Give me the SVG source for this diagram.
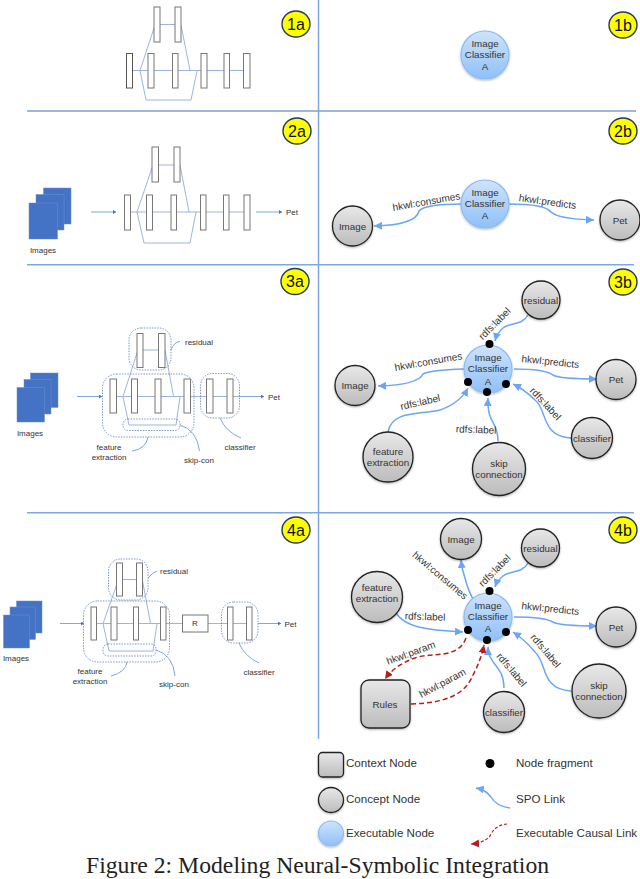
<svg xmlns="http://www.w3.org/2000/svg" width="640" height="879" viewBox="0 0 640 879">
<style>
text{font-family:"Liberation Sans",Arial,sans-serif;fill:#333}
.n{font-size:9.8px;text-anchor:middle}
.l{font-size:10px;text-anchor:middle}
.s{font-size:8px;text-anchor:middle}
.k{font-size:11.6px}
.b{font-size:16px;text-anchor:middle;fill:#111}
.bar{fill:#fff;stroke:#777;stroke-width:1}
.net{fill:none;stroke:#9db5dc;stroke-width:1}
.dot{fill:none;stroke:#5b7fb8;stroke-width:.8;stroke-dasharray:1.5 1.2}
.thin{fill:none;stroke:#5f8fd0;stroke-width:.8}
.img{fill:#4472c4;stroke:#6f8fcf;stroke-width:.5}
.div{stroke:#7fa6e8;stroke-width:1.5}
.badge{fill:#ffff00;stroke:#1f3864;stroke-width:1.4}
.con{fill:url(#g);stroke:#222;stroke-width:1.3;filter:url(#sh)}
.exe{fill:url(#e);stroke:#8dbcf5;stroke-width:1.2;filter:url(#sh)}
.spo{fill:none;stroke:#6aa6f5;stroke-width:1.5;marker-end:url(#ab)}
.cau{fill:none;stroke:#b81c1c;stroke-width:1.5;stroke-dasharray:5 3;marker-end:url(#ar)}
</style>
<defs>
<linearGradient id="g" x1="0" y1="0" x2="0" y2="1"><stop offset="0" stop-color="#e8e8e8"/><stop offset="1" stop-color="#bcbcbc"/></linearGradient>
<linearGradient id="e" x1="0" y1="0" x2="0" y2="1"><stop offset="0" stop-color="#cfe3fb"/><stop offset="1" stop-color="#8fc0f8"/></linearGradient>
<filter id="sh" x="-20%" y="-20%" width="140%" height="150%"><feDropShadow dx="0" dy="1" stdDeviation="1" flood-color="#000" flood-opacity=".3"/></filter>
<marker id="ab" markerUnits="userSpaceOnUse" markerWidth="9" markerHeight="8" refX="8" refY="4" orient="auto"><path d="M0 0L8 4L0 8z" fill="#6aa6f5"/></marker>
<marker id="ar" markerUnits="userSpaceOnUse" markerWidth="9" markerHeight="8" refX="8" refY="4" orient="auto"><path d="M0 0L8 4L0 8z" fill="#b81c1c"/></marker>
<marker id="as" markerUnits="userSpaceOnUse" markerWidth="4" markerHeight="4" refX="3" refY="2" orient="auto"><path d="M0 0L3 2L0 4z" fill="#4472c4"/></marker>
</defs>

<g id="dividers">
<line class="div" x1="318.5" y1="0" x2="318.5" y2="739"/>
<line class="div" x1="27" y1="111" x2="636" y2="111" style="stroke:#7f9fcf"/>
<line class="div" x1="27" y1="264.7" x2="634" y2="264.7"/>
<line class="div" x1="27" y1="512.7" x2="634" y2="512.7"/>
</g>

<g id="panel-1a">
<path class="net" d="M155 25L140 70.5M160 24.5H175M181 25L190 70.5M132 70.5H244M140 70.5L146 100H191L197 71"/>
<rect class="bar" x="154" y="7" width="6" height="35"/><rect class="bar" x="175" y="7" width="6" height="35"/>
<rect class="bar" x="126.5" y="53.5" width="6" height="34.5" style="stroke:#555"/><rect class="bar" x="148" y="53.5" width="6" height="34.5"/><rect class="bar" x="172.5" y="53.5" width="5.5" height="34.5"/><rect class="bar" x="201" y="53.5" width="6" height="34.5"/><rect class="bar" x="224" y="53.5" width="5.5" height="34.5"/><rect class="bar" x="243.5" y="53.5" width="6.5" height="34.5"/>
</g>

<g id="panel-2a">
<rect class="img" x="43.5" y="188" width="27.5" height="36"/><rect class="img" x="36" y="194.5" width="28" height="35.5"/><rect class="img" x="29" y="203" width="28.5" height="36"/>
<text class="s" x="43" y="253">Images</text>
<path class="net" d="M153 165L137 212M158 165H174M180 165L189 212M130 212H244M137 212L144 243H190L196 212"/>
<path class="thin" d="M91 212H116" marker-end="url(#as)"/><path class="thin" d="M256 212H282" marker-end="url(#as)"/>
<text class="s" x="292" y="215">Pet</text>
<rect class="bar" x="152" y="147" width="6.5" height="35"/><rect class="bar" x="174" y="147" width="6" height="35"/>
<rect class="bar" x="124.5" y="195" width="6" height="35"/><rect class="bar" x="146.5" y="195" width="6" height="35"/><rect class="bar" x="171" y="195" width="5.5" height="35"/><rect class="bar" x="200.5" y="195" width="5.5" height="35"/><rect class="bar" x="223.5" y="195" width="5.5" height="35"/><rect class="bar" x="244" y="195" width="6" height="35"/>
</g>

<g id="panel-3a">
<rect class="img" x="30.5" y="373" width="27.5" height="34.5"/><rect class="img" x="24" y="379.5" width="27" height="34.5"/><rect class="img" x="17" y="387.5" width="27.5" height="34.5"/>
<text class="s" x="30" y="436">Images</text>
<path class="net" d="M138 350L123 396.5M143 350H158.5M165 350L173.5 396.5M116 396.5H233M123 396.5L129 425H176L180 396.5M233 396.5H239"/>
<path class="thin" d="M77 396.5H102" marker-end="url(#as)"/><path class="thin" d="M239 396.5H264" marker-end="url(#as)"/>
<text class="s" x="274" y="399.5">Pet</text>
<rect class="bar" x="137" y="333.5" width="6" height="34"/><rect class="bar" x="158.5" y="333.5" width="6.5" height="34"/>
<rect class="bar" x="110" y="379" width="6.5" height="34"/><rect class="bar" x="131.5" y="379" width="6" height="34"/><rect class="bar" x="155" y="379" width="6" height="34"/><rect class="bar" x="184" y="379" width="6.5" height="34"/><rect class="bar" x="206.5" y="379" width="6.5" height="34"/><rect class="bar" x="227" y="379" width="6" height="34"/>
<rect class="dot" x="129" y="328" width="42" height="42" rx="12"/><rect class="dot" x="102.5" y="374" width="91.5" height="63" rx="14"/><rect class="dot" x="200.5" y="373.5" width="39" height="44.5" rx="12"/><rect class="dot" x="123" y="419" width="57" height="11.5" rx="5"/>
<path class="thin" d="M171 350Q174 342 180 341.5M148 437Q146 449 132 451M180 425Q197 430 199.5 451M220 418Q226 432 241 438"/>
<text class="s" x="199" y="344.5">residual</text><text class="s" x="109" y="450">feature</text><text class="s" x="109" y="460">extraction</text><text class="s" x="199" y="463">skip-con</text><text class="s" x="240" y="450">classifier</text>
</g>

<g id="panel-4a">
<rect class="img" x="16.5" y="601" width="25.5" height="32"/><rect class="img" x="10" y="607" width="25.5" height="32.5"/><rect class="img" x="3.5" y="615" width="26" height="33"/>
<text class="s" x="16" y="661">Images</text>
<path class="net" d="M118 581L103 623.5M122.5 579.500H136.5M142.5 581L150.5 623.5M96.5 623.5H182.5M103 623.5L109 651H153L157 623.5M208 623.5H252"/>
<path class="thin" d="M60 623.5H84" marker-end="url(#as)"/><path class="thin" d="M258 623.5H281" marker-end="url(#as)"/>
<text class="s" x="290.5" y="626.5">Pet</text>
<rect class="bar" x="116.5" y="563" width="6" height="33"/><rect class="bar" x="136.5" y="563" width="6" height="33"/>
<rect class="bar" x="91" y="607" width="5.5" height="33"/><rect class="bar" x="111" y="607" width="6" height="33"/><rect class="bar" x="133.5" y="607" width="5" height="33"/><rect class="bar" x="160.5" y="607" width="5.5" height="33"/><rect class="bar" x="227.5" y="607" width="5.5" height="33"/><rect class="bar" x="246.5" y="607" width="5.5" height="33"/>
<rect class="bar" x="182.5" y="615" width="25.5" height="17"/><text class="s" x="195" y="626">R</text>
<rect class="dot" x="108.5" y="559" width="39.5" height="41" rx="12"/><rect class="dot" x="83.5" y="601" width="86" height="61" rx="14"/><rect class="dot" x="221.5" y="602" width="36.5" height="41" rx="12"/><rect class="dot" x="103" y="644" width="53" height="12" rx="5"/>
<path class="thin" d="M148 578Q153 572 157 571M127 662Q126 672 111 676M156 650Q173 655 175 676M239 643Q244 656 259 663"/>
<text class="s" x="174" y="574">residual</text><text class="s" x="90" y="674">feature</text><text class="s" x="90" y="684">extraction</text><text class="s" x="174" y="687">skip-con</text><text class="s" x="259" y="675">classifier</text>
</g>

<g id="connectors">
<path class="spo" d="M461 204Q425 204 419 211Q416 225 374 226"/>
<path class="spo" d="M509 204Q545 204 551 212Q558 219 594 220"/>
<path class="spo" d="M528 315C522 326 510 322 503 328Q497 333 495 341"/>
<path class="spo" d="M464 369Q430 370 423 374Q418 385 378 386"/>
<path class="spo" d="M514 369Q545 369 553 375Q560 379 597 379"/>
<path class="spo" d="M388 432C392 410 420 415 440 410Q460 403 468 388"/>
<path class="spo" d="M498 441C498 420 487 425 488 398"/>
<path class="spo" d="M571 438C540 436 548 410 535 400Q525 390 513 384"/>
<path class="spo" d="M473 599Q468 590 465 578Q462 570 461 560"/>
<path class="spo" d="M528 563C522 574 510 570 503 576Q497 581 495 587"/>
<path class="spo" d="M396 613C405 627 425 630 463 632"/>
<path class="spo" d="M514 617Q545 617 553 622Q560 626 597 626"/>
<path class="spo" d="M571 691C540 689 548 664 535 652Q525 640 513 632"/>
<path class="spo" d="M504 688C504 665 488 665 488 647"/>
<path class="cau" d="M466 638C458 660 430 652 415 658Q395 665 385 679"/>
<path class="cau" d="M411 704C445 703 465 695 473 675Q481 660 484 645"/>
</g>

<g id="link-labels">
<text class="l" transform="translate(427 205) rotate(-10)">hkwl:consumes</text>
<text class="l" transform="translate(547 205) rotate(8)">hkwl:predicts</text>
<text class="l" transform="translate(429 365) rotate(-10)">hkwl:consumes</text>
<text class="l" transform="translate(550 365) rotate(6)">hkwl:predicts</text>
<text class="l" transform="translate(497 326) rotate(-45)">rdfs:label</text>
<text class="l" transform="translate(421 405.5) rotate(-13)">rdfs:label</text>
<text class="l" transform="translate(476 433) rotate(2)">rdfs:label</text>
<text class="l" transform="translate(543 406) rotate(47)">rdfs:label</text>
<text class="l" transform="translate(438 578) rotate(40)">hkwl:consumes</text>
<text class="l" transform="translate(497 573) rotate(-45)">rdfs:label</text>
<text class="l" transform="translate(425 620) rotate(2)">rdfs:label</text>
<text class="l" transform="translate(550 612) rotate(6)">hkwl:predicts</text>
<text class="l" transform="translate(543 653) rotate(50)">rdfs:label</text>
<text class="l" transform="translate(509 672) rotate(50)">rdfs:label</text>
<text class="l" transform="translate(412 656) rotate(-20)">hkwl:param</text>
<text class="l" transform="translate(444 686) rotate(-28)">hkwl:param</text>
</g>

<g id="node-1b"><circle class="exe" cx="485" cy="55" r="24"/><text class="n" x="485" y="47">Image</text><text class="n" x="485" y="58">Classifier</text><text class="n" x="485" y="70">A</text></g>

<g id="node-2b-classifier"><circle class="exe" cx="485" cy="204" r="24"/><text class="n" x="485" y="196">Image</text><text class="n" x="485" y="207">Classifier</text><text class="n" x="485" y="219">A</text></g>
<g id="node-2b-image"><circle class="con" cx="352.5" cy="226" r="20"/><text class="n" x="352.5" y="229.5">Image</text></g>
<g id="node-2b-pet"><circle class="con" cx="620" cy="220" r="20"/><text class="n" x="620" y="223.5">Pet</text></g>

<g id="node-3b-classifier"><circle class="exe" cx="488" cy="369" r="24"/><text class="n" x="488" y="361">Image</text><text class="n" x="488" y="372">Classifier</text><text class="n" x="488" y="384.5">A</text>
<circle cx="489.5" cy="344" r="4"/><circle cx="468" cy="382" r="4"/><circle cx="487" cy="392" r="4"/><circle cx="506" cy="384" r="4"/></g>
<g id="node-3b-image"><circle class="con" cx="355" cy="385.5" r="20"/><text class="n" x="355" y="389">Image</text></g>
<g id="node-3b-pet"><circle class="con" cx="616" cy="379.5" r="20"/><text class="n" x="616" y="383">Pet</text></g>
<g id="node-3b-residual"><circle class="con" cx="541" cy="300" r="19"/><text class="n" x="541" y="304">residual</text></g>
<g id="node-3b-skip"><circle class="con" cx="499" cy="469" r="26.5"/><text class="n" x="499" y="467">skip</text><text class="n" x="499" y="478">connection</text></g>
<g id="node-3b-feature"><circle class="con" cx="388" cy="457" r="25"/><text class="n" x="388" y="455">feature</text><text class="n" x="388" y="466">extraction</text></g>
<g id="node-3b-cls"><circle class="con" cx="592" cy="438" r="20.5"/><text class="n" x="592" y="441.5">classifier</text></g>

<g id="node-4b-classifier"><circle class="exe" cx="488" cy="617" r="24"/><text class="n" x="488" y="609">Image</text><text class="n" x="488" y="620">Classifier</text><text class="n" x="488" y="632">A</text>
<circle cx="489.5" cy="591" r="4"/><circle cx="468" cy="630" r="4"/><circle cx="487" cy="640" r="4"/><circle cx="506" cy="632" r="4"/></g>
<g id="node-4b-image"><circle class="con" cx="461" cy="539" r="20.5"/><text class="n" x="461" y="543">Image</text></g>
<g id="node-4b-residual"><circle class="con" cx="540.5" cy="548" r="19"/><text class="n" x="540.5" y="552">residual</text></g>
<g id="node-4b-feature"><circle class="con" cx="377" cy="597" r="25.5"/><text class="n" x="377" y="591">feature</text><text class="n" x="377" y="602">extraction</text></g>
<g id="node-4b-pet"><circle class="con" cx="616" cy="627" r="20"/><text class="n" x="616" y="630.5">Pet</text></g>
<g id="node-4b-skip"><circle class="con" cx="599" cy="691" r="27"/><text class="n" x="599" y="689">skip</text><text class="n" x="599" y="700">connection</text></g>
<g id="node-4b-cls"><circle class="con" cx="504" cy="712" r="20.5"/><text class="n" x="504" y="715.5">classifier</text></g>
<g id="node-4b-rules"><rect class="con" x="361" y="680" width="49" height="48" rx="8"/><text class="n" x="385" y="708">Rules</text></g>

<g id="badges">
<ellipse class="badge" cx="296" cy="24" rx="14" ry="13"/><text class="b" x="296" y="29.5">1a</text>
<ellipse class="badge" cx="297" cy="131" rx="14" ry="13"/><text class="b" x="297" y="136.5">2a</text>
<ellipse class="badge" cx="295" cy="281.5" rx="14" ry="13"/><text class="b" x="295" y="287">3a</text>
<ellipse class="badge" cx="296" cy="530" rx="14" ry="13"/><text class="b" x="296" y="535.5">4a</text>
<ellipse class="badge" cx="623" cy="25" rx="14" ry="13"/><text class="b" x="623" y="30.5">1b</text>
<ellipse class="badge" cx="623" cy="131" rx="14" ry="13"/><text class="b" x="623" y="136.5">2b</text>
<ellipse class="badge" cx="623" cy="282" rx="14" ry="13"/><text class="b" x="623" y="287.5">3b</text>
<ellipse class="badge" cx="623" cy="530" rx="14" ry="13"/><text class="b" x="623" y="535.5">4b</text>
</g>

<g id="legend-context"><rect class="con" x="318.5" y="752.5" width="25" height="24.5" rx="4"/><text class="k" x="346" y="767">Context Node</text></g>
<g id="legend-concept"><circle class="con" cx="331" cy="800" r="12.5"/><text class="k" x="346" y="803">Concept Node</text></g>
<g id="legend-executable"><circle class="exe" cx="331" cy="833.5" r="12.5"/><text class="k" x="346" y="837">Executable Node</text></g>
<g id="legend-fragment"><circle cx="490" cy="763.5" r="4.5"/><text class="k" x="516" y="767">Node fragment</text></g>
<g id="legend-spo"><path class="spo" d="M510 808Q496 806 491 797Q486 790 476 788"/><text class="k" x="516" y="803">SPO Link</text></g>
<g id="legend-causal"><path class="cau" style="stroke-dasharray:3 2;stroke-width:1.2" d="M507 824Q495 825 490 836Q484 843 471 844"/><text class="k" x="516" y="837">Executable Causal Link</text></g>

<text id="caption" x="86" y="873" style="font-family:'Liberation Serif','Times New Roman',serif;font-size:23.7px;fill:#222">Figure 2: Modeling Neural-Symbolic Integration</text>
</svg>
